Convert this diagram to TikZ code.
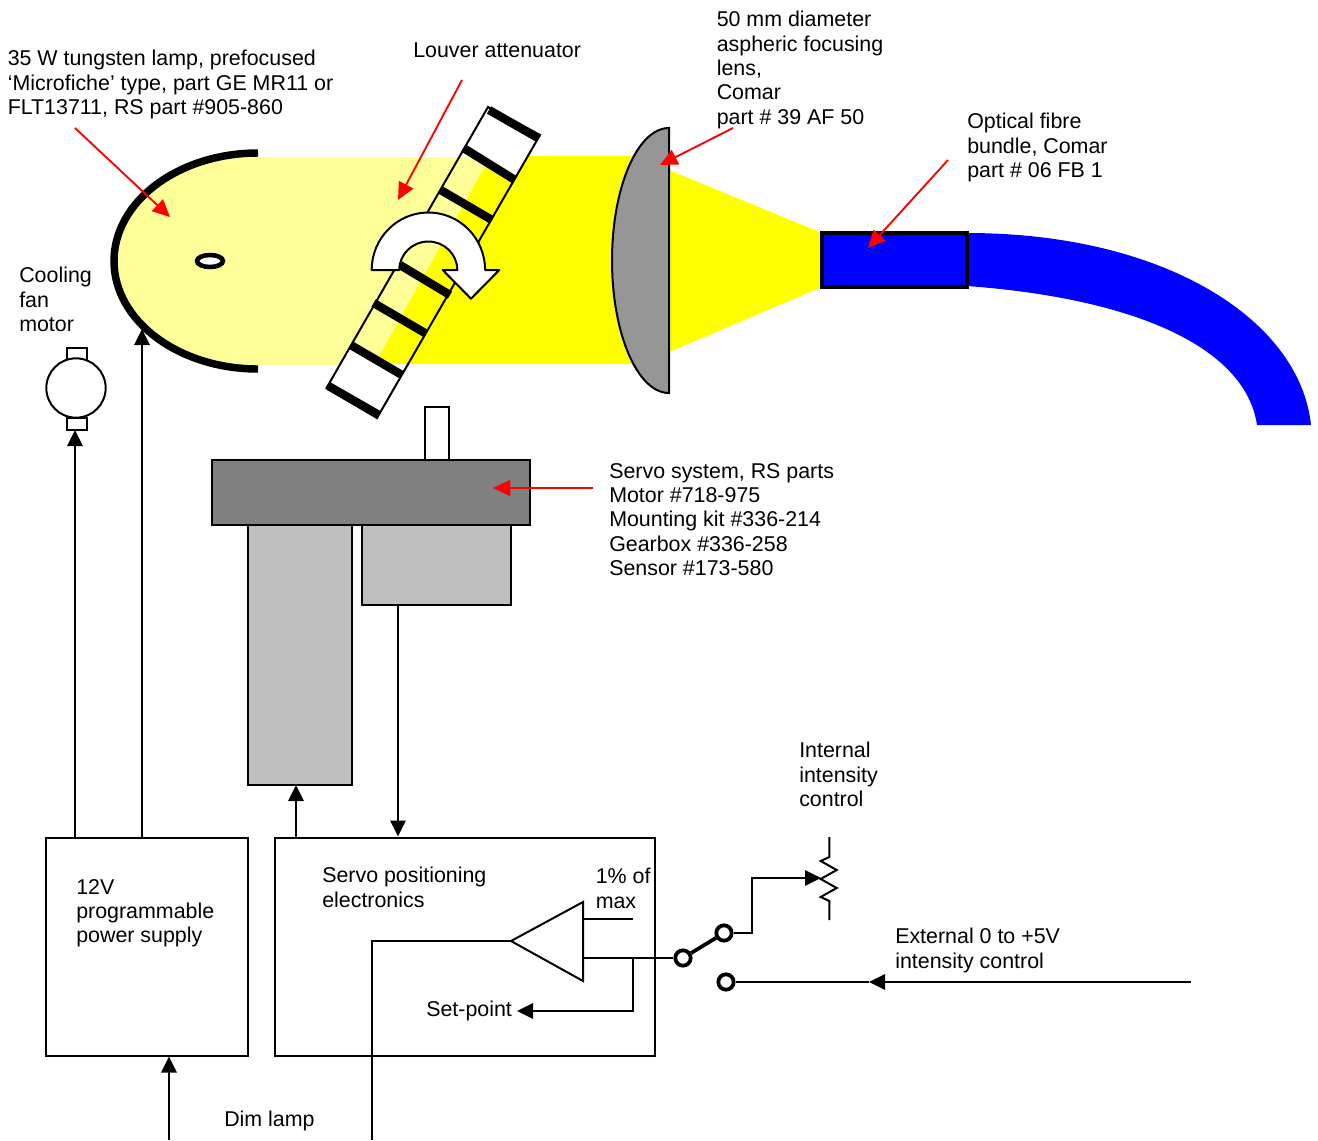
\documentclass[tikz,border=0pt]{standalone}
\usepackage{fontspec}
\setmainfont{Liberation Sans}
\usetikzlibrary{arrows.meta}
\definecolor{beamyellow}{RGB}{255,255,0}
\definecolor{paleyellow}{RGB}{255,255,153}
\definecolor{lensgray}{RGB}{150,150,150}
\definecolor{fibreblue}{RGB}{0,0,255}
\definecolor{pointerred}{RGB}{255,0,0}
\begin{document}
\begin{tikzpicture}[
  x=0.75pt, y=-0.75pt,
  every node/.style={font=\fontsize{16.05}{18.25}\selectfont},
  label/.style={align=left, anchor=north west, inner sep=0pt},
  box/.style={draw, line width=1.5pt, fill=white, inner sep=0pt},
  wire/.style={line width=1.5pt},
  arrow/.style={wire, -{Triangle[length=12pt, width=11.5pt]}},
  redarrow/.style={draw=pointerred, line width=1.4pt, -{Triangle[length=13pt, width=12pt]}},
  bar/.style={line width=6.3pt},
  terminal/.style={circle, draw, line width=2.8pt, fill=white, minimum size=11.5pt, inner sep=0pt}
]
\useasboundingbox (0,0) rectangle (1318,1140);

% light beam
\fill[beamyellow] (490,156) -- (650,156) -- (650,170) -- (669,170) -- (822,233) -- (822,287) -- (669,352) -- (650,352) -- (650,364) -- (374,364) -- cycle;
\fill[paleyellow] (258,157) -- (490,157) -- (374,365) -- (258,365) -- cycle;
\fill[paleyellow] (258,153) arc[x radius=144, y radius=108, start angle=270, end angle=90] -- cycle;

% lamp
\draw[line width=5.6pt] (258,153) arc[x radius=144, y radius=108, start angle=270, end angle=90];
\draw[line width=3.4pt, fill=white] (210,261) ellipse[x radius=13, y radius=6];

% louver
\fill[white] (488,107) -- (540,135) -- (515,180) -- (463.5,148) -- cycle;
\fill[white] (350.7,345) -- (402,375) -- (377,418) -- (326.5,388) -- cycle;
\draw[line width=1.5pt] (488,107) -- (540,135) -- (377,418) -- (326.5,388) -- cycle;
\draw[bar] (489,110) -- (538,138);
\draw[bar] (463.5,148) -- (515,180);
\draw[bar] (440.6,190) -- (492,220);
\draw[bar] (400,265) -- (450,295);
\draw[bar] (373.6,303) -- (425,333);
\draw[bar] (350.7,345) -- (402,375);
\draw[bar] (328.5,386) -- (379,415);

% rotation arrow
\draw[line width=1.5pt, fill=white, line join=round] (371.7,270) arc[x radius=56.7, y radius=57.5, start angle=180, end angle=360]
  -- (499.3,270) -- (471,298.7) -- (442.7,270) -- (457.3,270)
  arc[x radius=29, y radius=28.5, start angle=360, end angle=180] -- cycle;

% lens
\draw[line width=1.5pt, fill=lensgray] (669,128) arc[x radius=57, y radius=132.5, start angle=270, end angle=90] -- cycle;

% fibre
\fill[fibreblue] (967,233) .. controls (1165,233) and (1300,320) .. (1311,425)
  -- (1257,425) .. controls (1245,345) and (1130,298) .. (967,286) -- cycle;
\node[draw, line width=2.8pt, fill=fibreblue, minimum width=108.75pt, minimum height=40.5pt, inner sep=0pt] (ferrule) at (894.5,260) {};

% cooling fan motor
\node[box, minimum width=15pt, minimum height=9pt] (fanCap) at (76.7,354) {};
\node[box, minimum width=15pt, minimum height=9pt] (fanTail) at (76.7,424) {};
\node[circle, draw, line width=1.5pt, fill=white, minimum size=44.5pt, inner sep=0pt] (fan) at (76,388) {};

% servo system
\node[box, minimum width=18pt, minimum height=40pt] (shaft) at (437,433.5) {};
\node[box, fill=gray, minimum width=238.5pt, minimum height=49pt] (servo) at (371,492.5) {};
\node[box, fill=black!25, minimum width=78pt, minimum height=195pt] (motor) at (300,655) {};
\node[box, fill=black!25, minimum width=112pt, minimum height=60pt] (sensor) at (436.5,565) {};

% electronics
\node[box, minimum width=151.5pt, minimum height=163.5pt] (psu) at (147,946.5) {};
\node[box, minimum width=285pt, minimum height=163.5pt] (drive) at (465,946.5) {};
\draw[wire, fill=white] (511,941) -- (583,902) -- (583,981) -- cycle;
\coordinate (ampIn) at (511,941);
\coordinate (ampOutA) at (583,919);
\coordinate (ampLimit) at (633,919);
\coordinate (ampOutB) at (583,958);
\coordinate (branch) at (632.5,958);
\coordinate (setTip) at (517,1011);
\coordinate (setCorner) at (632.5,1011);
\coordinate (ctrlIn) at (372,1140);
\coordinate (dimIn) at (169,1140);

% switch
\node[terminal] (swCommon) at (683,958) {};
\node[terminal] (swInt) at (724,933) {};
\node[terminal] (swExt) at (726,982) {};
\draw[line width=2.8pt] (swCommon) -- (swInt);

% potentiometer
\coordinate (potTop) at (829.3,837);
\coordinate (potBottom) at (829.3,920);
\coordinate (potTip) at (821,878);
\draw[wire, line join=miter] (potTop) -- (829.3,857) -- (820.7,861) -- (836.7,870) -- (820.7,879) -- (836.7,888) -- (820.7,897) -- (829.3,901) -- (potBottom);

% external input
\coordinate (extIn) at (1191,982);
\coordinate (extTip) at (869,982);

% connectors
\coordinate (fanFeed) at (75,430);
\draw[arrow] (psu.north -| fanFeed) -- (fanFeed);
\coordinate (lampFoot) at (142,329);
\draw[arrow] (psu.north -| lampFoot) -- (lampFoot);
\coordinate (motorFeed) at (296,785);
\draw[arrow] (drive.north -| motorFeed) -- (motorFeed);
\coordinate (sensorOut) at (398,605);
\draw[arrow] (sensorOut) -- (drive.north -| sensorOut);
\draw[arrow] (dimIn) -- (psu.south -| dimIn);
\draw[wire] (ctrlIn) -- (ctrlIn |- ampIn) -- (ampIn);
\draw[wire] (ampOutA) -- (ampLimit);
\draw[wire] (ampOutB) -- (swCommon);
\draw[arrow] (branch) -- (setCorner) -- (setTip);
\draw[arrow] (swInt) -- (752,933) -- (752,878) -- (potTip);
\draw[arrow] (extIn) -- (extTip);
\draw[wire] (extTip) -- (swExt);

% labels
\node[label] (lampText) at (7.5,50) {35 W tungsten lamp, prefocused\\‘Microfiche’ type, part GE MR11 or\\FLT13711, RS part \#905-860};
\node[label] (louverText) at (413,43) {Louver attenuator};
\node[label] (lensText) at (716.5,11) {50 mm diameter\\aspheric focusing\\lens,\\Comar\\part \# 39 AF 50};
\node[label] (fibreText) at (967,113) {Optical fibre\\bundle, Comar\\part \# 06 FB 1};
\node[label] (fanText) at (19,267) {Cooling\\fan\\motor};
\node[label] (servoText) at (609,463) {Servo system, RS parts\\Motor \#718-975\\Mounting kit \#336-214\\Gearbox \#336-258\\Sensor \#173-580};
\node[label] (intText) at (799,742) {Internal\\intensity\\control};
\node[label] (extText) at (895,928) {External 0 to +5V\\intensity control};
\node[label] (psuText) at (76,879) {12V\\programmable\\power supply};
\node[label] (driveText) at (322,867) {Servo positioning\\electronics};
\node[label] (limitText) at (595.5,868) {1\% of\\max};
\node[label] (setText) at (426,1001) {Set-point};
\node[label] (dimText) at (224,1111) {Dim lamp};

% red pointers
\coordinate (lampTail) at (75,128);
\coordinate (lampTip) at (170,217);
\coordinate (louverTail) at (462,80);
\coordinate (louverTip) at (398,200);
\coordinate (lensTail) at (733,128);
\coordinate (lensTip) at (660,165);
\coordinate (fibreTail) at (948,160);
\coordinate (fibreTip) at (868,248);
\coordinate (servoTail) at (593,488);
\coordinate (servoTip) at (493,488);
\draw[redarrow] (lampTail) -- (lampTip);
\draw[redarrow] (louverTail) -- (louverTip);
\draw[redarrow] (lensTail) -- (lensTip);
\draw[redarrow] (fibreTail) -- (fibreTip);
\draw[redarrow] (servoTail) -- (servoTip);
\end{tikzpicture}
\end{document}
